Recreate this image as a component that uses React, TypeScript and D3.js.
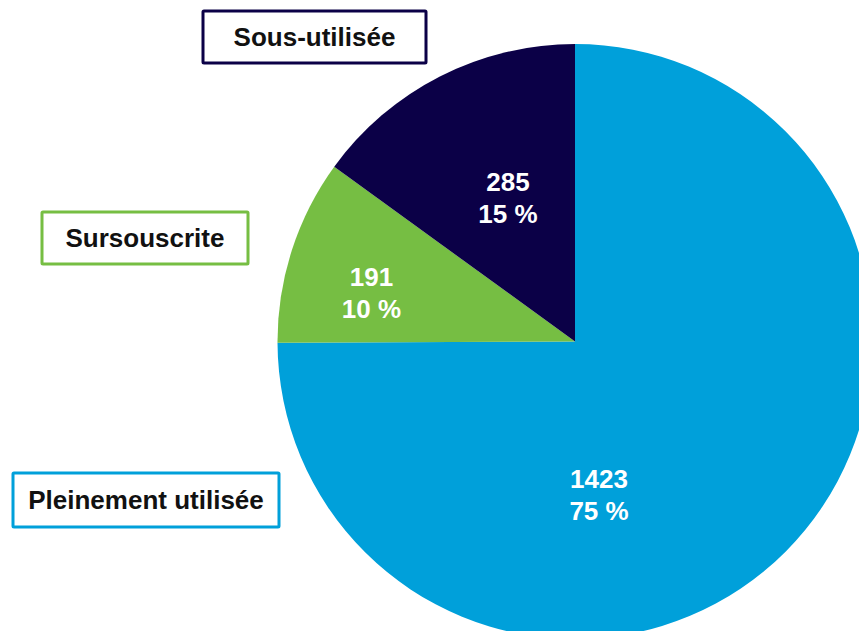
import React from "react";
import * as d3 from "d3";

const categories = ["Pleinement utilisée", "Sursouscrite", "Sous-utilisée"];
const values = [1423, 191, 285];
const colors = ["#00A0DA", "#76BE43", "#0B0047"];

// layout (styles / positions of annotation elements)
const W = 859;
const H = 631;
const CX = 575;
const CY = 341.5;
const R = 297.5;
// data label placement: angle (deg, clockwise from top) and radius fraction
const labelAngles = [171.1, 283.3, 334.9];
const labelRadii = [0.522, 0.703, 0.531];
// legend-like category boxes: [x, y, w, h]
const boxes = [
  [13, 473, 266, 54],
  [42, 212, 206, 52],
  [203, 11, 223, 52],
];

const FONT = "'Liberation Sans', Arial, Helvetica, sans-serif";

export default function App() {
  const total = d3.sum(values);
  const pie = d3
    .pie<number>()
    .sort(null)
    .startAngle(0)
    .endAngle(2 * Math.PI)
    .value((d) => d);
  const arcs = pie(values);
  const arcGen = d3.arc<d3.PieArcDatum<number>>().innerRadius(0).outerRadius(R);

  return (
    <svg
      width={W}
      height={H}
      style={{ position: "fixed", left: 0, top: 0, background: "#fff" }}
    >
      <g transform={`translate(${CX},${CY})`}>
        {arcs.map((a, i) => (
          <path key={i} d={arcGen(a) || ""} fill={colors[i]} />
        ))}
        {arcs.map((a, i) => {
          const ang = (labelAngles[i] * Math.PI) / 180;
          const rr = labelRadii[i] * R;
          const x = Math.sin(ang) * rr;
          const y = -Math.cos(ang) * rr;
          const pct = Math.round((values[i] / total) * 100) + " %";
          return (
            <text
              key={i}
              x={x}
              y={y}
              textAnchor="middle"
              fill="#fff"
              fontFamily={FONT}
              fontWeight="bold"
              fontSize={26}
            >
              <tspan x={x} y={y - 7}>
                {values[i]}
              </tspan>
              <tspan x={x} y={y + 25}>
                {pct}
              </tspan>
            </text>
          );
        })}
      </g>
      {boxes.map(([x, y, w, h], i) => (
        <g key={i}>
          <rect
            x={x}
            y={y}
            width={w}
            height={h}
            fill="#fff"
            stroke={colors[i]}
            strokeWidth={3}
            rx={1}
          />
          <text
            x={x + w / 2}
            y={y + h / 2 + 9}
            textAnchor="middle"
            fill="#111"
            fontFamily={FONT}
            fontWeight="bold"
            fontSize={26}
          >
            {categories[i]}
          </text>
        </g>
      ))}
    </svg>
  );
}
